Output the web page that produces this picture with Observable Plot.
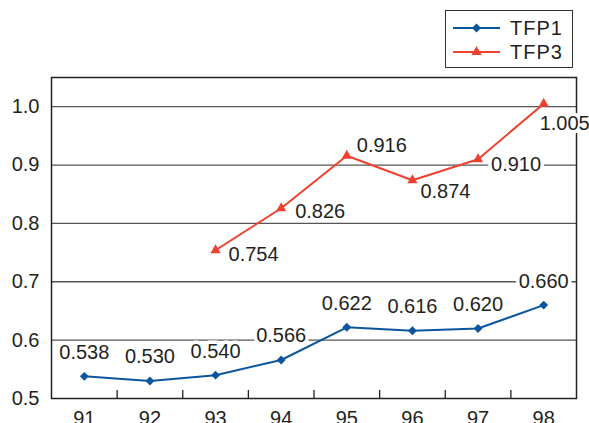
<!DOCTYPE html>
<html>
<head>
<meta charset="utf-8">
<script src="https://cdn.jsdelivr.net/npm/d3@7"></script>
<script src="https://cdn.jsdelivr.net/npm/@observablehq/plot@0.6"></script>
<style>
  html, body { margin: 0; padding: 0; background: #fff; }
  #wrap { position: relative; width: 589px; height: 423px; overflow: hidden; font-family: "Liberation Sans", Arial, sans-serif; }
  #legend { position: absolute; left: 445px; top: 10px; width: 126px; height: 56px; border: 1.3px solid #333; background: #fff; }
  #legend .row { position: absolute; left: 0; height: 24px; display: flex; align-items: center; }
  #legend .row span { font-size: 20px; color: #231f20; letter-spacing: 1px; margin-left: 10px; }
</style>
</head>
<body>
<div id="wrap"></div>
<script>
// Years on the x axis (two-digit labels)
const years = [91, 92, 93, 94, 95, 96, 97, 98];
// TFP1 covers every year
const tfp1 = [0.538, 0.530, 0.540, 0.566, 0.622, 0.616, 0.620, 0.660];
// TFP3 starts in 93
const tfp3Years = [93, 94, 95, 96, 97, 98];
const tfp3 = [0.754, 0.826, 0.916, 0.874, 0.910, 1.005];
// Y axis ticks
const yTicks = [0.5, 0.6, 0.7, 0.8, 0.9, 1.0];

const series = [
  {name: "TFP1", color: "#0b559f", symbol: "diamond2", r: 4},
  {name: "TFP3", color: "#ef4130", symbol: "triangle", r: 3.8}
];

const rows1 = years.map((y, i) => ({year: y, value: tfp1[i]}));
const rows3 = tfp3Years.map((y, i) => ({year: y, value: tfp3[i]}));

// category boundaries for the small inner tick marks
const bounds = d3.range(years[0] + 0.5, years[years.length - 1], 1);
const yMin = yTicks[0];

const textColor = "#231f20";
const halo = {stroke: "white", strokeWidth: 7, fill: textColor, fontSize: 20};

// individual placement of the TFP3 value labels around their markers
const tfp3Offsets = {93: [13, 4], 94: [14, 3], 95: [10, -10], 96: [8, 11], 97: [13, 5], 98: [-4, 20]};

const plot = Plot.plot({
  width: 589,
  height: 423,
  marginLeft: 51,
  marginRight: 13,
  marginTop: 77,
  marginBottom: 25,
  style: {fontFamily: "Liberation Sans, Arial, sans-serif", fontSize: "20px", color: textColor, background: "white"},
  x: {type: "linear", domain: [years[0] - 0.5, years[years.length - 1] + 0.5]},
  y: {domain: [yMin, 1.05]},
  marks: [
    Plot.ruleY(yTicks.slice(1), {stroke: "#555", strokeWidth: 1.3}),
    // short tick marks rising from the bottom edge between categories
    Plot.ruleX(bounds, {x: d => d, y1: yMin, y2: yMin, insetTop: -8, stroke: "#222", strokeWidth: 1.3}),
    Plot.frame({stroke: "#222", strokeWidth: 1.5}),
    Plot.axisY({ticks: yTicks, tickFormat: d3.format(".1f"), tickSize: 0, tickPadding: 12, label: null, fontSize: 20}),
    Plot.axisX({ticks: years, tickFormat: d => String(d), tickSize: 0, tickPadding: 12, label: null, fontSize: 20}),
    Plot.line(rows1, {x: "year", y: "value", stroke: series[0].color, strokeWidth: 2}),
    Plot.dot(rows1, {x: "year", y: "value", symbol: series[0].symbol, r: series[0].r, fill: series[0].color}),
    Plot.line(rows3, {x: "year", y: "value", stroke: series[1].color, strokeWidth: 2}),
    Plot.dot(rows3, {x: "year", y: "value", symbol: series[1].symbol, r: series[1].r, fill: series[1].color}),
    Plot.text(rows1, {x: "year", y: "value", text: d => d.value.toFixed(3), dy: -24, ...halo}),
    ...tfp3Years.map(yr => Plot.text(rows3.filter(d => d.year === yr), {
      x: "year", y: "value", text: d => d.value.toFixed(3), textAnchor: "start",
      dx: tfp3Offsets[yr][0], dy: tfp3Offsets[yr][1], ...halo
    }))
  ]
});

const wrap = document.getElementById("wrap");
wrap.appendChild(plot);

// legend box
const legend = document.createElement("div");
legend.id = "legend";
series.forEach((s, i) => {
  const row = document.createElement("div");
  row.className = "row";
  row.style.top = (5 + i * 24) + "px";
  row.style.left = "7px";
  const sym = s.symbol === "diamond2" ? d3.symbolDiamond2 : d3.symbolTriangle;
  const size = Math.PI * s.r * s.r;
  row.innerHTML =
    `<svg width="47" height="24"><line x1="0" x2="47" y1="12" y2="12" stroke="${s.color}" stroke-width="2"/>` +
    `<path transform="translate(23.5,12)" d="${d3.symbol(sym, size)()}" fill="${s.color}"/></svg>` +
    `<span>${s.name}</span>`;
  legend.appendChild(row);
});
wrap.appendChild(legend);
</script>
</body>
</html>
